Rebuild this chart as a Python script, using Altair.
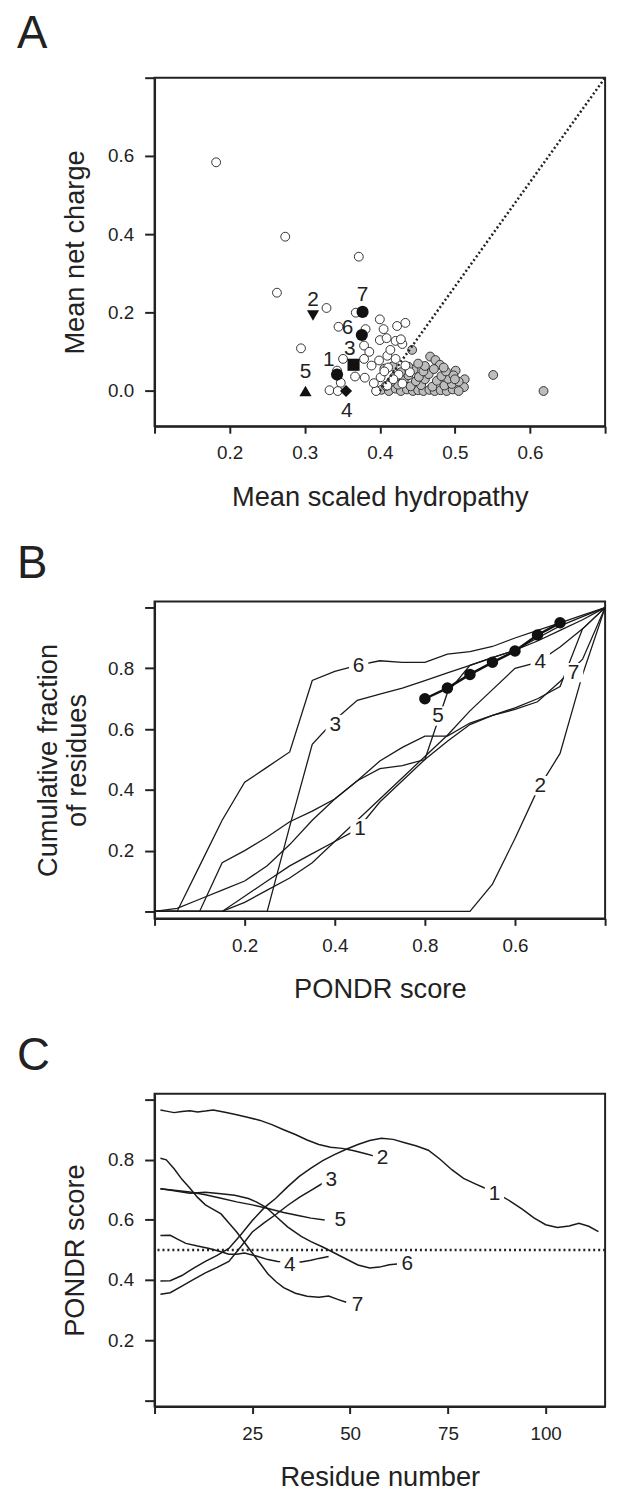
import altair as alt
import pandas as pd

FONT = "Liberation Sans"
INK = "#222222"

# ---------------- Panel A: charge-hydropathy plot ----------------
open_x = [0.182, 0.274, 0.372, 0.263, 0.329, 0.295, 0.368, 0.345, 0.381, 0.379,
          0.351, 0.379, 0.343, 0.348, 0.367, 0.380, 0.333, 0.344, 0.389, 0.395,
          0.400, 0.405, 0.400, 0.409, 0.421, 0.430, 0.423, 0.434, 0.428, 0.399,
          0.410, 0.421, 0.411, 0.425, 0.440, 0.401, 0.410, 0.430, 0.418, 0.406,
          0.434, 0.392, 0.414, 0.386]
open_y = [0.584, 0.394, 0.343, 0.251, 0.212, 0.109, 0.200, 0.164, 0.158, 0.116,
          0.082, 0.082, 0.052, 0.021, 0.037, 0.034, 0.002, 0.000, 0.065, 0.000,
          0.183, 0.158, 0.130, 0.135, 0.128, 0.120, 0.166, 0.174, 0.132, 0.078,
          0.090, 0.082, 0.060, 0.042, 0.048, 0.035, 0.014, 0.019, 0.030, 0.050,
          0.065, 0.020, 0.105, 0.100]
gray_x = [0.443, 0.406, 0.417, 0.467, 0.474, 0.480, 0.501, 0.513, 0.512, 0.551,
          0.618, 0.402, 0.412, 0.421, 0.428, 0.436, 0.444, 0.451, 0.458, 0.466,
          0.473, 0.481, 0.489, 0.497, 0.505, 0.408, 0.424, 0.441, 0.455, 0.470,
          0.486, 0.496, 0.415, 0.432, 0.448, 0.460, 0.476, 0.491, 0.505, 0.420,
          0.438, 0.452, 0.465, 0.482, 0.498, 0.488, 0.428, 0.445, 0.458, 0.472,
          0.460, 0.451, 0.438, 0.485, 0.500]
gray_y = [0.105, 0.057, 0.063, 0.088, 0.079, 0.067, 0.052, 0.030, 0.010, 0.041,
          0.000, 0.003, 0.000, 0.006, 0.000, 0.004, 0.000, 0.002, 0.000, 0.003,
          0.000, 0.002, 0.000, 0.004, 0.000, 0.013, 0.016, 0.012, 0.015, 0.011,
          0.014, 0.018, 0.024, 0.028, 0.025, 0.030, 0.026, 0.031, 0.024, 0.037,
          0.040, 0.036, 0.043, 0.038, 0.040, 0.050, 0.048, 0.055, 0.050, 0.056,
          0.064, 0.070, 0.062, 0.060, 0.030]
mark_ids = ["1", "2", "3", "4", "5", "6", "7"]
mark_x = [0.343, 0.311, 0.365, 0.355, 0.301, 0.376, 0.377]
mark_y = [0.042, 0.193, 0.067, 0.000, 0.000, 0.143, 0.202]
labA_x = [0.332, 0.311, 0.360, 0.356, 0.301, 0.357, 0.377]
labA_y = [0.078, 0.233, 0.107, -0.051, 0.048, 0.160, 0.244]
boundary_x = [0.40, 0.70]
boundary_y = [0.00, 0.80]

# ---------------- Panel B: cumulative distributions ----------------
grid_b = [0.0, 0.05, 0.1, 0.15, 0.2, 0.25, 0.3, 0.35, 0.4, 0.45, 0.5,
          0.55, 0.6, 0.65, 0.7, 0.75, 0.8, 0.85, 0.9, 0.95, 1.0]
b1 = [0, 0, 0, 0, 0.05, 0.10, 0.15, 0.19, 0.23, 0.27, 0.36, 0.43, 0.50, 0.56, 0.615, 0.645, 0.67, 0.70, 0.74, 0.93, 1.0]
b2 = [0, 0, 0, 0, 0, 0, 0, 0, 0, 0, 0, 0, 0, 0, 0, 0.09, 0.24, 0.40, 0.52, 0.78, 1.0]
b3 = [0, 0, 0, 0, 0, 0, 0.28, 0.55, 0.63, 0.695, 0.715, 0.735, 0.76, 0.785, 0.81, 0.835, 0.86, 0.89, 0.925, 0.96, 1.0]
b4 = [0, 0, 0, 0, 0.03, 0.07, 0.11, 0.16, 0.23, 0.30, 0.37, 0.44, 0.51, 0.58, 0.66, 0.73, 0.80, 0.82, 0.87, 0.93, 1.0]
b5 = [0, 0.01, 0.04, 0.07, 0.10, 0.15, 0.22, 0.30, 0.37, 0.43, 0.47, 0.48, 0.50, 0.72, 0.81, 0.835, 0.86, 0.90, 0.94, 0.97, 1.0]
b6 = [0, 0, 0.15, 0.30, 0.425, 0.475, 0.525, 0.76, 0.79, 0.81, 0.825, 0.82, 0.82, 0.847, 0.855, 0.872, 0.90, 0.925, 0.95, 0.975, 1.0]
b7 = [0, 0, 0, 0.16, 0.20, 0.245, 0.295, 0.33, 0.37, 0.43, 0.495, 0.54, 0.577, 0.577, 0.62, 0.645, 0.665, 0.69, 0.757, 0.83, 1.0]
ref_x = [0.60, 0.65, 0.70, 0.75, 0.80, 0.85, 0.90]
ref_y = [0.70, 0.735, 0.78, 0.82, 0.857, 0.91, 0.95]
labB_x = [0.456, 0.856, 0.401, 0.856, 0.629, 0.453, 0.930]
labB_y = [0.272, 0.414, 0.615, 0.822, 0.643, 0.808, 0.786]

# ---------------- Panel C: PONDR profiles ----------------
c1_x = [1.5, 4, 7, 10, 13, 16, 19, 22, 25, 28, 31, 34, 37, 40, 43, 46, 49, 52, 55, 58,
        61, 64, 67, 70, 73, 76, 79, 82, 85, 88, 91, 94, 97, 100, 103, 106, 108.5, 111, 113.5]
c1_y = [0.397, 0.398, 0.415, 0.440, 0.462, 0.482, 0.505, 0.550, 0.598, 0.640, 0.672, 0.710,
        0.745, 0.772, 0.797, 0.817, 0.835, 0.851, 0.864, 0.872, 0.868, 0.857, 0.846, 0.832,
        0.802, 0.767, 0.738, 0.720, 0.703, 0.685, 0.662, 0.636, 0.607, 0.584, 0.575, 0.580,
        0.589, 0.579, 0.561]
c2_x = [1.5, 3, 5, 7, 9, 11, 13, 15, 18, 21, 24, 27, 30, 33, 36, 39, 42, 45, 48, 51, 54, 56]
c2_y = [0.966, 0.962, 0.957, 0.961, 0.963, 0.959, 0.962, 0.966, 0.958, 0.950, 0.941, 0.931,
        0.917, 0.900, 0.884, 0.866, 0.851, 0.842, 0.838, 0.830, 0.820, 0.813]
c3_x = [1.5, 4, 7, 10, 13, 16, 19, 22, 25, 28, 31, 34, 37, 40, 43]
c3_y = [0.353, 0.358, 0.380, 0.402, 0.424, 0.442, 0.462, 0.510, 0.560, 0.590, 0.618, 0.648,
        0.675, 0.698, 0.722]
c4_x = [1.5, 4, 6, 8, 11, 14, 17, 19, 21, 23, 26, 29, 31.5, 37.5, 40, 42, 44.5]
c4_y = [0.548, 0.549, 0.535, 0.522, 0.513, 0.505, 0.494, 0.486, 0.486, 0.490, 0.480, 0.468,
        0.462, 0.460, 0.466, 0.472, 0.478]
c5_x = [1.5, 5, 9, 13, 17, 21, 25, 29, 33, 37, 40, 43.5]
c5_y = [0.704, 0.699, 0.693, 0.684, 0.672, 0.660, 0.650, 0.638, 0.625, 0.614, 0.606, 0.600]
c6_x = [1.5, 5, 9, 13, 17, 20.5, 24, 26, 28.5, 31, 34, 37.5, 40, 43, 46, 49, 52, 55, 57.5, 60, 62]
c6_y = [0.704, 0.697, 0.689, 0.692, 0.687, 0.682, 0.671, 0.660, 0.642, 0.612, 0.577, 0.545,
        0.528, 0.510, 0.490, 0.470, 0.450, 0.440, 0.443, 0.451, 0.453]
c7_x = [1.5, 3, 5, 7, 9, 11, 13, 15, 17, 19, 21, 23, 25, 27, 29, 31, 33, 36, 39, 42, 44.5, 47, 49]
c7_y = [0.805, 0.800, 0.770, 0.735, 0.706, 0.675, 0.650, 0.635, 0.620, 0.590, 0.560, 0.525,
        0.490, 0.455, 0.420, 0.395, 0.375, 0.356, 0.346, 0.343, 0.347, 0.335, 0.326]
labC_x = [86.9, 58.3, 45.2, 34.6, 47.5, 64.6, 51.9]
labC_y = [0.686, 0.806, 0.733, 0.450, 0.600, 0.452, 0.316]
threshold = [0.5]

# ---------------- helpers ----------------
def bottom_axis(values, expr, title):
    return alt.Axis(values=values, labelExpr=expr, title=title, grid=False, orient="bottom",
                    tickSize=7, tickWidth=2, tickColor=INK, domainColor=INK, domainWidth=2,
                    labelFont=FONT, labelFontSize=19, labelColor=INK, labelPadding=11,
                    labelFlush=False, labelOverlap=False,
                    titleFont=FONT, titleFontSize=27.5, titleFontWeight="normal", titleColor=INK,
                    titleX=227.5, titleY=80, titleAlign="center", titleBaseline="alphabetic")


def left_axis(values, expr, title, tx, ty):
    return alt.Axis(values=values, labelExpr=expr, title=title, grid=False, orient="left",
                    tickSize=10, tickWidth=2, tickColor=INK, domainColor=INK, domainWidth=2,
                    labelFont=FONT, labelFontSize=19, labelColor=INK, labelPadding=11,
                    labelFlush=False, labelOverlap=False,
                    titleFont=FONT, titleFontSize=27.5, titleFontWeight="normal", titleColor=INK,
                    titleAngle=270, titleX=tx, titleY=ty, titleAlign="center",
                    titleBaseline="alphabetic", titleLineHeight=29)


def letter(t):
    return alt.TitleParams(text=t, anchor="start", frame="group", fontSize=46, font=FONT,
                           fontWeight="normal", color=INK, dx=-139, offset=11)


FRAME = alt.ViewBackground(stroke=INK, strokeWidth=2, fill="white")
W = 455

# ---------------- Panel A ----------------
xA = alt.X("xv:Q", scale=alt.Scale(domain=[0.1, 0.7], nice=False, zero=False),
           axis=bottom_axis([0.1, 0.2, 0.3, 0.4, 0.5, 0.6, 0.7],
                            "datum.value < 0.15 || datum.value > 0.65 ? '' : format(datum.value, '.1f')",
                            "Mean scaled hydropathy"))
yA = alt.Y("yv:Q", scale=alt.Scale(domain=[-0.09, 0.8], nice=False, zero=False),
           axis=left_axis([0, 0.2, 0.4, 0.6, 0.8],
                          "datum.value > 0.7 ? '' : format(datum.value, '.1f')",
                          "Mean net charge", -72, 176))

dA_gray = pd.DataFrame({"xv": gray_x, "yv": gray_y})
dA_open = pd.DataFrame({"xv": open_x, "yv": open_y})
dA_line = pd.DataFrame({"xv": boundary_x, "yv": boundary_y})
dA_mark = pd.DataFrame({"id": mark_ids, "xv": mark_x, "yv": mark_y})
dA_lab = pd.DataFrame({"id": mark_ids, "xv": labA_x, "yv": labA_y})

shapes = ["circle", "triangle-down", "square", "diamond", "triangle-up", "circle", "circle"]

pA = alt.layer(
    alt.Chart(dA_gray).mark_point(shape="circle", filled=True, fill="#bdbdbd", stroke="#333333",
                                  strokeWidth=1, size=80, opacity=1).encode(x=xA, y=yA),
    alt.Chart(dA_open).mark_point(shape="circle", filled=True, fill="white", stroke="#333333",
                                  strokeWidth=1, size=80, opacity=1).encode(x=xA, y=yA),
    alt.Chart(dA_line).mark_line(color=INK, strokeWidth=2.5, strokeDash=[2, 2.5]).encode(x=xA, y=yA),
    alt.Chart(dA_mark).mark_point(filled=True, color="#111111", size=150, opacity=1).encode(
        x=xA, y=yA,
        shape=alt.Shape("id:N", scale=alt.Scale(domain=mark_ids, range=shapes), legend=None)),
    alt.Chart(dA_lab).mark_text(font=FONT, fontSize=21, color=INK, align="center",
                                baseline="middle").encode(x=xA, y=yA, text="id:N"),
).properties(width=W, height=352, title=letter("A"), view=FRAME)

# ---------------- Panel B ----------------
xB = alt.X("xv:Q", scale=alt.Scale(domain=[0, 1.0], nice=False, zero=False),
           axis=bottom_axis([0, 0.2, 0.4, 0.6, 0.8, 1.0],
                            "abs(datum.value - 0.6) < 0.01 ? '0.8' : abs(datum.value - 0.8) < 0.01 ? '0.6' : "
                            "(datum.value < 0.1 || datum.value > 0.9) ? '' : format(datum.value, '.1f')",
                            "PONDR score"))
yB = alt.Y("yv:Q", scale=alt.Scale(domain=[-0.023, 1.02], nice=False, zero=False),
           axis=left_axis([0, 0.2, 0.4, 0.6, 0.8, 1.0],
                          "(datum.value < 0.1 || datum.value > 0.9) ? '' : format(datum.value, '.1f')",
                          ["Cumulative fraction", "of residues"], -99, 160))

series_b = {"1": b1, "2": b2, "3": b3, "4": b4, "5": b5, "6": b6, "7": b7}
dB = pd.concat([pd.DataFrame({"s": k, "xv": grid_b, "yv": v}) for k, v in series_b.items()],
               ignore_index=True)
dB_ref = pd.DataFrame({"xv": ref_x, "yv": ref_y})
dB_lab = pd.DataFrame({"id": mark_ids, "xv": labB_x, "yv": labB_y})

pB = alt.layer(
    alt.Chart(dB).mark_line(color="#1a1a1a", strokeWidth=1.3).encode(x=xB, y=yB, detail="s:N"),
    alt.Chart(dB_ref).mark_line(color="#111111", strokeWidth=2.5).encode(x=xB, y=yB),
    alt.Chart(dB_ref).mark_point(filled=True, color="#111111", size=135, opacity=1).encode(x=xB, y=yB),
    alt.Chart(dB_lab).mark_square(color="white", size=380, opacity=1).encode(x=xB, y=yB),
    alt.Chart(dB_lab).mark_text(font=FONT, fontSize=21, color=INK, align="center",
                                baseline="middle").encode(x=xB, y=yB, text="id:N"),
).properties(width=W, height=320, title=letter("B"), view=FRAME)

# ---------------- Panel C ----------------
xC = alt.X("xv:Q", scale=alt.Scale(domain=[0, 115.2], nice=False, zero=False),
           axis=bottom_axis([0, 25, 50, 75, 100],
                            "datum.value < 1 ? '' : format(datum.value, 'd')",
                            "Residue number"))
yC = alt.Y("yv:Q", scale=alt.Scale(domain=[-0.021, 1.02], nice=False, zero=False),
           axis=left_axis([0, 0.2, 0.4, 0.6, 0.8, 1.0],
                          "(datum.value < 0.1 || datum.value > 0.9) ? '' : format(datum.value, '.1f')",
                          "PONDR score", -72, 158))

series_c = {"1": (c1_x, c1_y), "2": (c2_x, c2_y), "3": (c3_x, c3_y), "4": (c4_x, c4_y),
            "5": (c5_x, c5_y), "6": (c6_x, c6_y), "7": (c7_x, c7_y)}
dC = pd.concat([pd.DataFrame({"s": k, "xv": v[0], "yv": v[1]}) for k, v in series_c.items()],
               ignore_index=True)
dC_lab = pd.DataFrame({"id": mark_ids, "xv": labC_x, "yv": labC_y})
dC_thr = pd.DataFrame({"yv": threshold})

pC = alt.layer(
    alt.Chart(dC_thr).mark_rule(color=INK, strokeWidth=2.5, strokeDash=[2, 3]).encode(y=yC),
    alt.Chart(dC).mark_line(color="#1a1a1a", strokeWidth=1.5).encode(x=xC, y=yC, detail="s:N"),
    alt.Chart(dC_lab).mark_square(color="white", size=380, opacity=1).encode(x=xC, y=yC),
    alt.Chart(dC_lab).mark_text(font=FONT, fontSize=21, color=INK, align="center",
                                baseline="middle").encode(x=xC, y=yC, text="id:N"),
).properties(width=W, height=316, title=letter("C"), view=FRAME)

chart = alt.vconcat(pA, pB, pC, spacing=177, bounds="flush").properties(
    padding={"left": 8, "top": -5, "right": 5, "bottom": 5}
).configure_view(stroke=INK, strokeWidth=2)

chart.save("out.html", embed_options={"renderer": "svg", "actions": False})
